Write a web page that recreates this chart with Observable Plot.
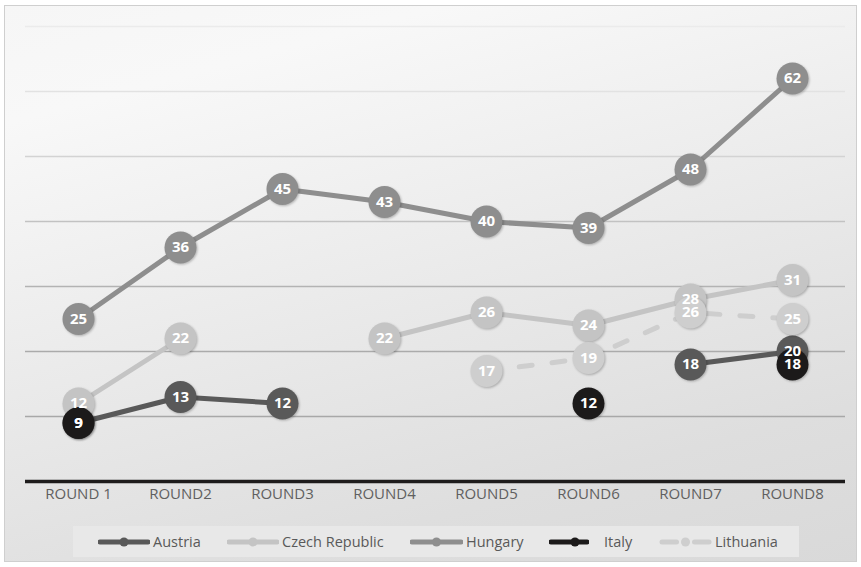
<!DOCTYPE html>
<html><head><meta charset="utf-8">
<script src="https://cdn.jsdelivr.net/npm/d3@7"></script>
<script src="https://cdn.jsdelivr.net/npm/@observablehq/plot@0.6"></script>
<style>
html,body{margin:0;padding:0;background:#fff;width:861px;height:567px;overflow:hidden;font-family:"Open Sans",sans-serif}
#frame{position:absolute;left:4px;top:5px;width:853px;height:557px;border:1px solid #cfcfcf;box-sizing:border-box;
  background:linear-gradient(165deg,#f6f6f6 0%,#f8f8f8 15%,#ececec 45%,#dedede 80%,#d9d9d9 100%)}
#chart{position:absolute;left:0;top:0}
#legend{position:absolute;left:73px;top:526px;width:726px;height:31px;background:#e8e8e8}
.li{position:absolute;top:0;height:31px;display:flex;align-items:center;font-size:14.5px;color:#595959;white-space:nowrap}
.li svg{margin-right:3px}
</style></head>
<body>
<div id="frame"></div>
<div id="chart"></div>
<div id="legend"></div>
<script>
const rounds = ["ROUND 1","ROUND2","ROUND3","ROUND4","ROUND5","ROUND6","ROUND7","ROUND8"];
const seriesNames = ["Austria","Czech Republic","Hungary","Italy","Lithuania"];
const austria   = [9, 13, 12, null, null, null, 18, 20];
const czech     = [12, 22, null, 22, 26, 24, 28, 31];
const hungary   = [25, 36, 45, 43, 40, 39, 48, 62];
const italy     = [9, null, null, null, null, 12, null, 18];
const lithuania = [null, null, null, null, 17, 19, 26, 25];
const gridValues = [10, 20, 30, 40, 50, 60, 70];

const valuesBySeries = {"Austria": austria, "Czech Republic": czech, "Hungary": hungary, "Italy": italy, "Lithuania": lithuania};
const colors = {"Austria":"#595959","Czech Republic":"#c4c4c4","Hungary":"#8e8e8e","Italy":"#1c1a1a","Lithuania":"#cecece"};
const gridColors = {10:"#a8a8a8",20:"#ababab",30:"#b3b3b3",40:"#c2c2c2",50:"#d3d3d3",60:"#e2e2e2",70:"#ebebeb"};

const rows = seriesNames.flatMap(s => rounds.map((r, i) => ({series: s, round: r, value: valuesBySeries[s][i]})));
const defined = rows.filter(d => d.value != null);

const lineMarks = seriesNames.filter(s => s !== "Italy").map(s =>
  Plot.line(rows.filter(d => d.series === s), {
    x: "round", y: "value", stroke: colors[s], strokeWidth: 5,
    strokeLinecap: "round", strokeLinejoin: "round",
    strokeDasharray: s === "Lithuania" ? "13,20" : null
  })
);

const chart = Plot.plot({
  width: 861, height: 520,
  marginLeft: 25, marginRight: 16, marginTop: 26, marginBottom: 39,
  style: {background: "transparent", fontFamily: "Open Sans, sans-serif"},
  x: {type: "point", domain: rounds, padding: 0.5, label: null, tickSize: 0, tickPadding: 8},
  y: {domain: [0, 70], axis: null},
  color: {type: "identity"},
  marks: [
    Plot.ruleY(gridValues, {y: d => d, stroke: d => gridColors[d], strokeWidth: 1.5}),
    Plot.ruleY([0], {stroke: "#1e1c1c", strokeWidth: 3.5}),
    ...lineMarks,
    Plot.dot(defined, {x: "round", y: "value", r: 16, fill: d => colors[d.series], stroke: "none"}),
    Plot.text(defined, {x: "round", y: "value", text: d => String(d.value), fill: "white", fontWeight: "bold", fontSize: 15}),
    Plot.axisX({tickSize: 0, tickPadding: 7, fontSize: 15, fill: "#606060", label: null})
  ]
});
document.getElementById("chart").appendChild(chart);
d3.select(chart).selectAll("circle").style("filter", "drop-shadow(1px 1.5px 1px rgba(0,0,0,0.25))");
d3.select(chart).selectAll("[aria-label='x-axis tick label'] text").attr("fill", "#606060");

// legend
const legendPos = [
  {s: "Austria", x: 25, w: 52},
  {s: "Czech Republic", x: 154, w: 52},
  {s: "Hungary", x: 337, w: 53},
  {s: "Italy", x: 476, w: 40, gap: 15},
  {s: "Lithuania", x: 586, w: 53}
];
const legend = d3.select("#legend");
legendPos.forEach(p => {
  const item = legend.append("div").attr("class", "li").style("left", p.x + "px");
  const svg = item.append("svg").attr("width", p.w).attr("height", 12).style("margin-right", (p.gap || 3) + "px");
  const dashed = p.s === "Lithuania";
  if (dashed) {
    svg.append("line").attr("x1", 3).attr("x2", p.w/2 - 9).attr("y1", 6).attr("y2", 6)
      .attr("stroke", colors[p.s]).attr("stroke-width", 5).attr("stroke-linecap", "round");
    svg.append("line").attr("x1", p.w/2 + 9).attr("x2", p.w - 3).attr("y1", 6).attr("y2", 6)
      .attr("stroke", colors[p.s]).attr("stroke-width", 5).attr("stroke-linecap", "round");
  } else {
    svg.append("line").attr("x1", 2).attr("x2", p.w - 2).attr("y1", 6).attr("y2", 6)
      .attr("stroke", colors[p.s]).attr("stroke-width", 5).attr("stroke-linecap", "round");
  }
  svg.append("circle").attr("cx", p.s === "Italy" ? p.w * 0.65 : p.w/2).attr("cy", 6).attr("r", 4.5).attr("fill", colors[p.s]);
  item.append("span").text(p.s);
});
</script>
</body></html>
